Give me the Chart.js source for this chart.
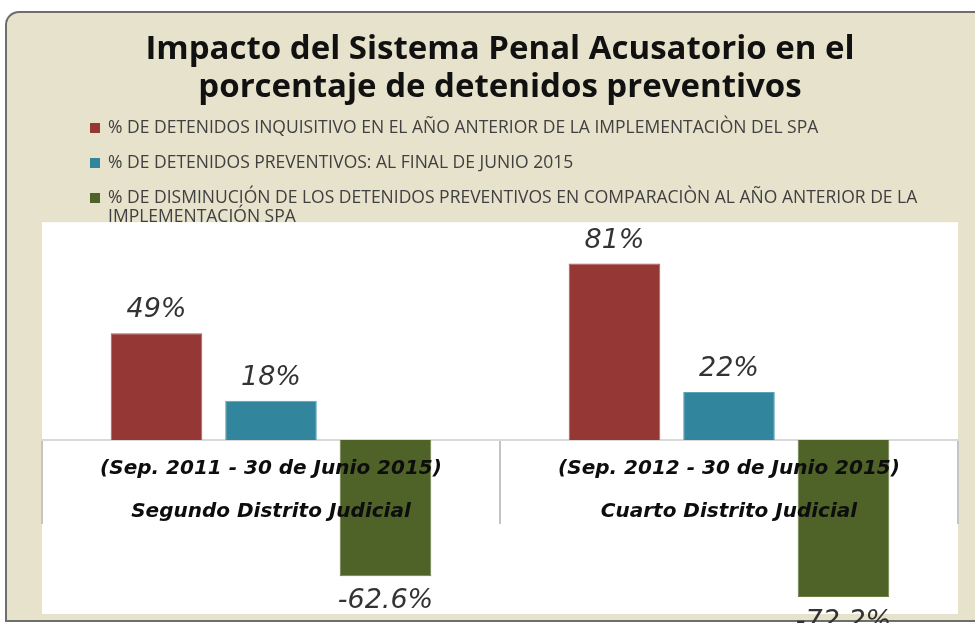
<!DOCTYPE html>
<html>
<head>
<meta charset="utf-8">
<script src="https://cdn.jsdelivr.net/npm/chart.js@4"></script>
<style>
  html, body { margin: 0; padding: 0; background: #ffffff; overflow: hidden; }
  #wrap { width: 975px; height: 623px; position: relative; }
</style>
</head>
<body>
<div id="wrap"><canvas id="chart"></canvas></div>
<script>
// categories (two-line labels) and series
var categories = [
    ['(Sep. 2011 - 30 de Junio 2015)', 'Segundo Distrito Judicial'],
    ['(Sep. 2012 - 30 de Junio 2015)', 'Cuarto Distrito Judicial']
];
var seriesNames = [
    '% DE DETENIDOS INQUISITIVO EN EL AÑO ANTERIOR DE LA IMPLEMENTACIÒN DEL SPA',
    '% DE DETENIDOS PREVENTIVOS: AL FINAL DE JUNIO 2015',
    '% DE DISMINUCIÓN DE LOS DETENIDOS PREVENTIVOS EN COMPARACIÒN AL AÑO ANTERIOR DE LA IMPLEMENTACIÓN SPA'
];
var inquisitivo = [49, 81];
var preventivos = [18, 22];
var disminucion = [-62.6, -72.2];

var colors = ['#953735', '#31859c', '#4f6228'];
var borders = ['#b85a58', '#5aa3b8', '#6b7f44'];

// panel background, legend, white plot area
var backgroundPlugin = {
    id: 'panel',
    beforeDraw: function (chart) {
        var ctx = chart.ctx;
        var w = chart.width, h = chart.height;
        ctx.save();
        ctx.fillStyle = '#ffffff';
        ctx.fillRect(0, 0, w, h);

        // dark edge on top and left, then beige panel
        ctx.fillStyle = '#6e6e6a';
        ctx.beginPath();
        ctx.moveTo(w, 11);
        ctx.lineTo(19, 11);
        ctx.arcTo(5, 11, 5, 25, 14);
        ctx.lineTo(5, h - 1);
        ctx.lineTo(w, h - 1);
        ctx.closePath();
        ctx.fill();
        ctx.fillStyle = '#e6e2cb';
        ctx.beginPath();
        ctx.moveTo(w, 13);
        ctx.lineTo(19, 13);
        ctx.arcTo(7, 13, 7, 25, 12);
        ctx.lineTo(7, h - 3);
        ctx.lineTo(w, h - 3);
        ctx.closePath();
        ctx.fill();

        // legend drawn from datasets
        ctx.font = '17.5px "Open Sans"';
        ctx.textBaseline = 'middle';
        var ys = [128, 163, 198];
        chart.data.datasets.forEach(function (ds, i) {
            ctx.fillStyle = ds.backgroundColor;
            ctx.fillRect(90, ys[i] - 5, 10, 10);
            ctx.fillStyle = '#404040';
            var words = ds.label.split(' ');
            var line = '', y = ys[i];
            words.forEach(function (word) {
                var test = line ? line + ' ' + word : word;
                if (ctx.measureText(test).width > 835 && line) {
                    ctx.fillText(line, 108, y);
                    line = word;
                    y += 19;
                } else {
                    line = test;
                }
            });
            ctx.fillText(line, 108, y);
        });

        var a = chart.chartArea;
        ctx.fillStyle = '#ffffff';
        ctx.fillRect(a.left, a.top, a.right - a.left, a.bottom - a.top);
        ctx.restore();
    }
};

// value labels above / below bars
var valueLabels = {
    id: 'valueLabels',
    afterDatasetsDraw: function (chart) {
        var ctx = chart.ctx;
        ctx.save();
        ctx.font = 'italic 27px "DejaVu Sans"';
        ctx.fillStyle = '#333333';
        ctx.textAlign = 'center';
        ctx.textBaseline = 'middle';
        chart.data.datasets.forEach(function (ds, i) {
            chart.getDatasetMeta(i).data.forEach(function (bar, j) {
                var v = ds.data[j];
                var y = v >= 0 ? bar.y - 23 : bar.y + 25;
                ctx.fillText(v + '%', bar.x, y);
            });
        });
        ctx.restore();
    }
};

new Chart(document.getElementById('chart'), {
    type: 'bar',
    data: {
        labels: categories,
        datasets: [
            { label: seriesNames[0], data: inquisitivo, backgroundColor: colors[0], borderColor: borders[0], borderWidth: 1 },
            { label: seriesNames[1], data: preventivos, backgroundColor: colors[1], borderColor: borders[1], borderWidth: 1 },
            { label: seriesNames[2], data: disminucion, backgroundColor: colors[2], borderColor: borders[2], borderWidth: 1 }
        ]
    },
    options: {
        responsive: true,
        maintainAspectRatio: false,
        animation: false,
        devicePixelRatio: 1,
        layout: { padding: { left: 42, right: 17, top: 0, bottom: 9 } },
        datasets: { bar: { categoryPercentage: 0.75, barPercentage: 0.8 } },
        plugins: {
            legend: { display: false },
            tooltip: { enabled: false },
            title: {
                display: true,
                text: ['Impacto del Sistema Penal Acusatorio en el', 'porcentaje de detenidos preventivos'],
                color: '#111111',
                font: { family: 'Open Sans', size: 33, weight: 'bold', lineHeight: 1.17 },
                padding: { top: 30, bottom: 115 }
            }
        },
        scales: {
            x: {
                position: { y: 0 },
                z: 1,
                grid: {
                    drawOnChartArea: false,
                    drawTicks: true,
                    tickLength: 83,
                    color: '#c4c4c4',
                    lineWidth: 2
                },
                border: { display: true, color: '#d9d9d9', width: 2 },
                ticks: {
                    z: 1,
                    color: '#0d0d0d',
                    padding: -76,
                    maxRotation: 0,
                    autoSkip: false,
                    font: { family: 'DejaVu Sans', size: 20, weight: 'bold', style: 'italic', lineHeight: 2.15 }
                }
            },
            y: {
                display: false,
                min: -80,
                max: 100
            }
        }
    },
    plugins: [backgroundPlugin, valueLabels]
});
</script>
</body>
</html>
